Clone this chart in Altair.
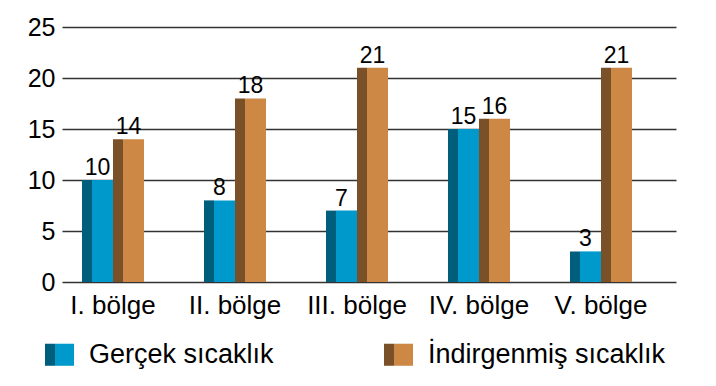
import altair as alt
import pandas as pd

regions = ["I. bölge", "II. bölge", "III. bölge", "IV. bölge", "V. bölge"]
gercek = [10, 8, 7, 15, 3]
indirgenmis = [14, 18, 21, 16, 21]
series_names = ["Gerçek sıcaklık", "İndirgenmiş sıcaklık"]
light_colors = ["#0099CC", "#CC8844"]
dark_colors = ["#005E7D", "#7A5028"]
y_ticks = [0, 5, 10, 15, 20, 25]

rows = []
for r, g, i in zip(regions, gercek, indirgenmis):
    rows.append({"bolge": r, "seri": series_names[0], "deger": g})
    rows.append({"bolge": r, "seri": series_names[1], "deger": i})
df = pd.DataFrame(rows)

FONT = "Liberation Sans"

x_enc = alt.X(
    "bolge:N", sort=regions,
    scale=alt.Scale(paddingInner=0.492, paddingOuter=0.2624, align=0.3125),
    axis=alt.Axis(title=None, labelAngle=0, domain=False, ticks=False, grid=False,
                  labelFontSize=26, labelPadding=10, labelColor="#000", labelFont=FONT),
)
y_enc = alt.Y(
    "deger:Q", scale=alt.Scale(domain=[0, 25]),
    axis=alt.Axis(title=None, values=y_ticks, grid=True, gridColor="#333", gridWidth=1.6,
                  domain=False, ticks=False, labelFontSize=25, labelPadding=7,
                  labelColor="#000", labelFont=FONT),
)

LIGHT_PATH = "M-0.31,-0.76H1V0.76H-0.31Z"
DARK_PATH = "M-1,-0.76H-0.31V0.76H-1Z"

common_legend = dict(
    orient="none", legendX=-17, legendY=313, direction="horizontal", title=None,
    symbolSize=841, labelFontSize=27, labelFont=FONT, labelColor="#000",
    labelOffset=15, columnPadding=110, padding=0, symbolStrokeWidth=0,
    labelLimit=0, symbolOpacity=1,
)

color_enc = alt.Color(
    "seri:N",
    scale=alt.Scale(domain=series_names, range=light_colors),
    legend=alt.Legend(symbolType=LIGHT_PATH, **common_legend),
)
fill_enc = alt.Fill(
    "seri_koyu:N",
    scale=alt.Scale(range=dark_colors),
    legend=alt.Legend(symbolType=DARK_PATH, labelOpacity=0, **common_legend),
)

base = alt.Chart(df)


def series_layers(name, light_off, dark_off, text_dx):
    f = base.transform_filter(alt.datum.seri == name)
    light = f.mark_bar(width=21, xOffset=light_off, opacity=1).encode(
        x=x_enc, y=y_enc, color=color_enc)
    dark = f.transform_calculate(seri_koyu="datum.seri").mark_bar(
        width=10, xOffset=dark_off, opacity=1).encode(x=x_enc, y=y_enc, fill=fill_enc)
    text = f.mark_text(dx=text_dx, dy=-5, baseline="alphabetic", fontSize=23,
                       font=FONT, color="#000").encode(x=x_enc, y=y_enc, text="deger:Q")
    return [light, dark, text]


layers = series_layers(series_names[0], -10.5, -26, -15.5) + \
    series_layers(series_names[1], 20.5, 5, 15.5)

chart = alt.layer(*layers).properties(
    width=614, height=255,
    autosize=alt.AutoSizeParams(type="none"),
    padding={"left": 54, "top": 19, "right": 20, "bottom": 92},
    background="white",
).configure_view(stroke=None)

chart.save("out.html", embed_options={"renderer": "svg", "actions": False})
